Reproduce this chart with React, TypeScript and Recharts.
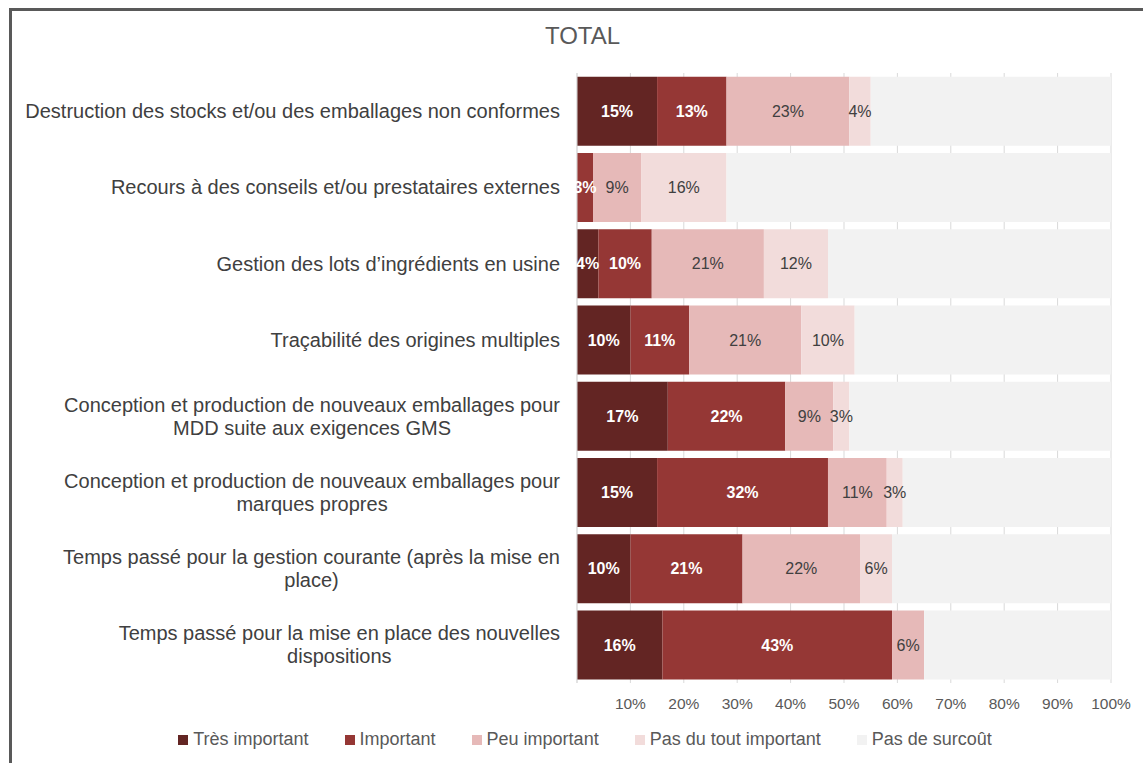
import React from 'react'
import { BarChart, Bar, XAxis, YAxis, CartesianGrid, LabelList, Legend } from "recharts";

const categories = [
  "Destruction des stocks et/ou des emballages non conformes",
  "Recours à des conseils et/ou prestataires externes",
  "Gestion des lots d’ingrédients en usine",
  "Traçabilité des origines multiples",
  "Conception et production de nouveaux emballages pour MDD suite aux exigences GMS",
  "Conception et production de nouveaux emballages pour marques propres",
  "Temps passé pour la gestion courante (après la mise en place)",
  "Temps passé pour la mise en place des nouvelles dispositions",
];

const tresImportant = [15, 0, 4, 10, 17, 15, 10, 16];
const important = [13, 3, 10, 11, 22, 32, 21, 43];
const peuImportant = [23, 9, 21, 21, 9, 11, 22, 6];
const pasDuTout = [4, 16, 12, 10, 3, 3, 6, 0];
const pasDeSurcout = [45, 72, 53, 48, 49, 39, 41, 35];

const xTicks = [0, 10, 20, 30, 40, 50, 60, 70, 80, 90, 100];

const FONT = "'Liberation Sans', Arial, sans-serif";

const series = [
  { key: "tres", name: "Très important", color: "#632523", labelColor: "#ffffff", bold: true, showLabel: true },
  { key: "imp", name: "Important", color: "#953735", labelColor: "#ffffff", bold: true, showLabel: true },
  { key: "peu", name: "Peu important", color: "#E6B9B8", labelColor: "#404040", bold: false, showLabel: true },
  { key: "pdt", name: "Pas du tout important", color: "#F2DCDB", labelColor: "#404040", bold: false, showLabel: true },
  { key: "pds", name: "Pas de surcoût", color: "#F2F2F2", labelColor: "#404040", bold: false, showLabel: false },
];

const data = categories.map((name, i) => ({
  name,
  tres: tresImportant[i],
  imp: important[i],
  peu: peuImportant[i],
  pdt: pasDuTout[i],
  pds: pasDeSurcout[i],
}));

const CAT_FONT_SIZE = 20;
let canvasCtx: CanvasRenderingContext2D | null = null;
const measure = (text: string) => {
  if (!canvasCtx) {
    canvasCtx = document.createElement("canvas").getContext("2d");
  }
  if (!canvasCtx) return text.length * CAT_FONT_SIZE * 0.5;
  canvasCtx.font = `${CAT_FONT_SIZE}px ${FONT}`;
  return canvasCtx.measureText(text).width;
};

const wrap = (text: string, maxWidth: number) => {
  const words = text.split(" ");
  const lines: string[] = [];
  let cur = "";
  words.forEach((w) => {
    const test = cur ? cur + " " + w : w;
    if (measure(test) > maxWidth && cur) {
      lines.push(cur);
      cur = w;
    } else {
      cur = test;
    }
  });
  if (cur) lines.push(cur);
  return lines;
};

const CategoryTick = (props: any) => {
  const { x, y, payload } = props;
  const lines = wrap(payload.value, 540);
  const right = 560;
  const lineH = 23;
  if (lines.length === 1) {
    return (
      <text x={right} y={y} textAnchor="end" dominantBaseline="central" fill="#404040" fontSize={CAT_FONT_SIZE} fontFamily={FONT}>
        {lines[0]}
      </text>
    );
  }
  const widest = Math.max(...lines.map(measure));
  const cx = right - widest / 2;
  const startY = y - ((lines.length - 1) * lineH) / 2;
  return (
    <text textAnchor="middle" fill="#404040" fontSize={CAT_FONT_SIZE} fontFamily={FONT}>
      {lines.map((l, i) => (
        <tspan key={i} x={cx} y={startY + i * lineH} dominantBaseline="central">{l}</tspan>
      ))}
    </text>
  );
};

const makeLabel = (color: string, bold: boolean) => (props: any) => {
  const vb = props.viewBox || props;
  const { x, y, width, height } = vb;
  const value = props.value;
  if (!value) return null;
  return (
    <text
      x={x + width / 2}
      y={y + height / 2}
      textAnchor="middle"
      dominantBaseline="central"
      fill={color}
      fontSize={16}
      fontWeight={bold ? "bold" : "normal"}
      fontFamily={FONT}
    >
      {value}%
    </text>
  );
};

const LegendContent = () => (
  <div style={{ display: "flex", justifyContent: "center", gap: 36, fontFamily: FONT, fontSize: 18, color: "#595959" }}>
    {series.map((s) => (
      <div key={s.key} style={{ display: "flex", alignItems: "center" }}>
        <span style={{ display: "inline-block", width: 10, height: 10, background: s.color, marginRight: 5 }} />
        <span>{s.name}</span>
      </div>
    ))}
  </div>
);

export default function App() {
  return (
    <div style={{ position: "absolute", left: 0, top: 0, width: 1143, height: 763, background: "#fff", overflow: "hidden" }}>
      <div style={{ position: "absolute", left: 9, top: 8, width: 1200, height: 800, borderLeft: "3px solid #595959", borderTop: "3px solid #595959" }} />
      <div style={{ position: "absolute", left: 0, width: 1165, top: 22, textAlign: "center", fontFamily: FONT, fontSize: 24, color: "#595959" }}>
        TOTAL
      </div>
      <div style={{ position: "absolute", left: 0, top: 0 }}>
        <BarChart
          width={1143}
          height={763}
          data={data}
          layout="vertical"
          margin={{ top: 73, right: 32, left: 0, bottom: 13 }}
          barCategoryGap="5%"
        >
          <CartesianGrid horizontal={false} stroke="#d9d9d9" />
          <XAxis
            type="number"
            domain={[0, 100]}
            ticks={xTicks}
            interval={0}
            tickFormatter={(v: number) => (v === 0 ? "" : `${v}%`)}
            axisLine={false}
            tickLine={false}
            tickMargin={9}
            height={46}
            tick={{ fill: "#595959", fontSize: 15.5, fontFamily: FONT }}
          />
          <YAxis
            type="category"
            dataKey="name"
            width={577}
            axisLine={{ stroke: "#d9d9d9" }}
            tickLine={false}
            tick={<CategoryTick />}
            interval={0}
          />
          <Legend
            verticalAlign="bottom"
            content={<LegendContent />}
            wrapperStyle={{ left: 60, width: 1050 }}
          />
          {series.map((s) => (
            <Bar key={s.key} dataKey={s.key} name={s.name} stackId="a" fill={s.color} isAnimationActive={false}>
              {s.showLabel && <LabelList dataKey={s.key} content={makeLabel(s.labelColor, s.bold)} />}
            </Bar>
          ))}
        </BarChart>
      </div>
    </div>
  );
}
